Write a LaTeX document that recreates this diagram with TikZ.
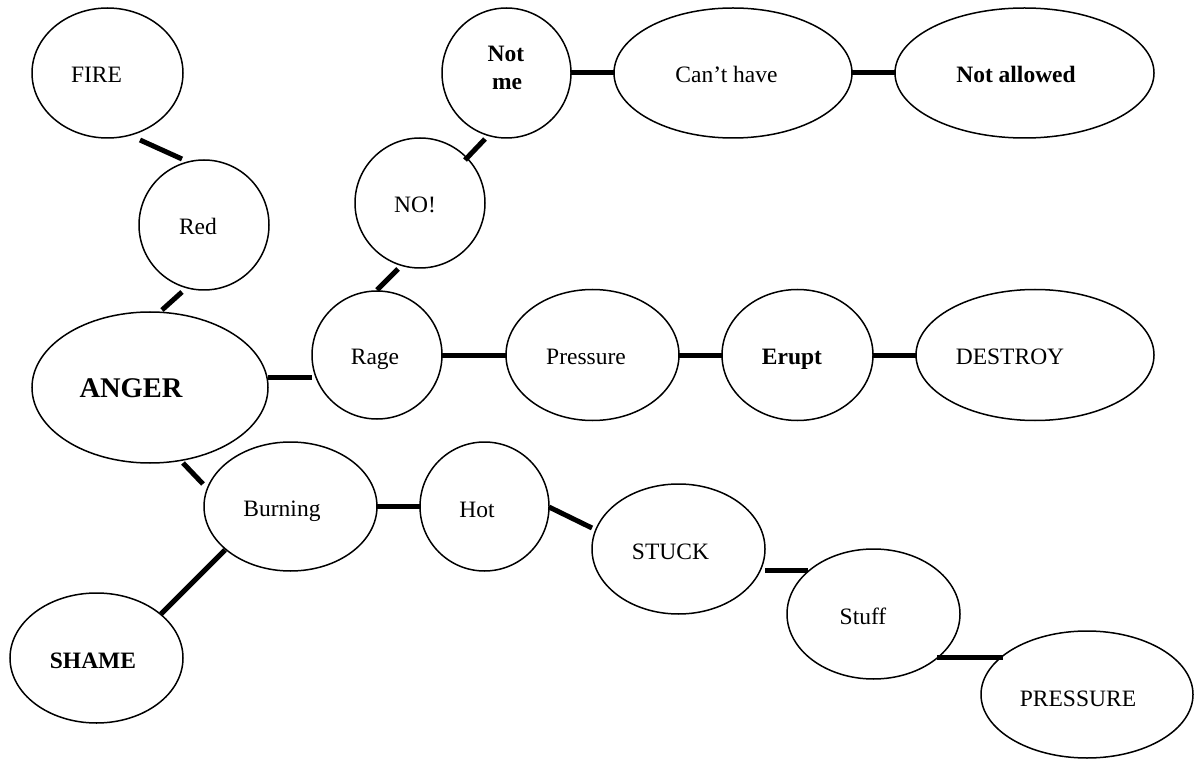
\documentclass[tikz,border=0pt]{standalone}
\usepackage{fontspec}
\setmainfont{Liberation Serif}
\usetikzlibrary{shapes.geometric}
\tikzset{
  bub/.style={draw=black, ellipse, line width=1.5pt, inner sep=0pt, outer sep=0pt},
  lbl/.style={anchor=base, inner sep=0pt, font=\fontsize{23.5}{28}\selectfont},
  blbl/.style={anchor=base, inner sep=0pt, font=\fontsize{23.5}{28}\selectfont\bfseries},
  conn/.style={line width=5pt, line cap=butt},
}
\begin{document}
\begin{tikzpicture}[x=1pt,y=-1pt]
\useasboundingbox[fill=white] (0,0) rectangle (1194,759);
% bubbles
\node[bub, minimum width=151pt, minimum height=130pt] (fire) at (107.5,73) {};
\node[bub, minimum width=130pt, minimum height=130pt] (red) at (204,225) {};
\node[bub, minimum width=236pt, minimum height=151pt] (anger) at (150,387.5) {};
\node[bub, minimum width=130pt, minimum height=128pt] (rage) at (377,355) {};
\node[bub, minimum width=130pt, minimum height=130pt] (no) at (420,203) {};
\node[bub, minimum width=129pt, minimum height=130pt] (notme) at (506.5,73) {};
\node[bub, minimum width=238pt, minimum height=130pt] (canthave) at (733,73) {};
\node[bub, minimum width=259pt, minimum height=130pt] (notallowed) at (1024.5,73) {};
\node[bub, minimum width=173pt, minimum height=131pt] (pressure) at (592.5,355) {};
\node[bub, minimum width=151pt, minimum height=131pt] (erupt) at (797.5,355) {};
\node[bub, minimum width=238pt, minimum height=131pt] (destroy) at (1035,355) {};
\node[bub, minimum width=173pt, minimum height=129pt] (burning) at (290.5,506.5) {};
\node[bub, minimum width=129pt, minimum height=129pt] (hot) at (484.5,506.5) {};
\node[bub, minimum width=173pt, minimum height=130pt] (stuck) at (678.5,549) {};
\node[bub, minimum width=173pt, minimum height=130pt] (stuff) at (873.5,614) {};
\node[bub, minimum width=173pt, minimum height=130pt] (shame) at (96.5,658) {};
\node[bub, minimum width=212pt, minimum height=127pt] (pressure2) at (1087,694.5) {};
% labels
\node[lbl] (fire-t) at (96.5,83) {FIRE};
\node[lbl] (red-t) at (198,235) {Red};
\node[anchor=base, inner sep=0pt, font=\fontsize{28.5}{32}\selectfont\bfseries] (anger-t) at (131,397) {ANGER};
\node[lbl] (rage-t) at (375,364) {Rage};
\node[lbl] (no-t) at (415,213) {NO!};
\node[blbl] (notme-t1) at (506,62) {Not};
\node[blbl] (notme-t2) at (507,90) {me};
\node[lbl] (canthave-t) at (726.5,83) {Can’t have};
\node[blbl] (notallowed-t) at (1016,83) {Not allowed};
\node[lbl] (pressure-t) at (586,364) {Pressure};
\node[blbl] (erupt-t) at (792,364) {Erupt};
\node[lbl] (destroy-t) at (1010,364) {DESTROY};
\node[lbl] (burning-t) at (282,516) {Burning};
\node[lbl] (hot-t) at (477,517) {Hot};
\node[lbl] (stuck-t) at (670.5,559) {STUCK};
\node[lbl] (stuff-t) at (863,624) {Stuff};
\node[blbl] (shame-t) at (93,668) {SHAME};
\node[lbl] (pressure2-t) at (1078,706) {PRESSURE};
% connectors
\draw[conn] ([shift={(32.5,67)}]fire.center) -- ([shift={(-22,-66)}]red.center);
\draw[conn] ([shift={(-22,67)}]red.center) -- ([shift={(12,-77.5)}]anger.center);
\draw[conn] ([shift={(118,-10.5)}]anger.center) -- ([shift={(-65,22)}]rage.center);
\draw[conn] ([shift={(0,-65)}]rage.center) -- ([shift={(-22,66)}]no.center);
\draw[conn] ([shift={(45,-43)}]no.center) -- ([shift={(-21.5,66)}]notme.center);
\draw[conn] ([shift={(64.5,0)}]notme.center) -- ([shift={(-119,0)}]canthave.center);
\draw[conn] ([shift={(119,0)}]canthave.center) -- ([shift={(-129.5,0)}]notallowed.center);
\draw[conn] ([shift={(65,0)}]rage.center) -- ([shift={(-86.5,0)}]pressure.center);
\draw[conn] ([shift={(86.5,0)}]pressure.center) -- ([shift={(-75.5,0)}]erupt.center);
\draw[conn] ([shift={(75.5,0)}]erupt.center) -- ([shift={(-119,0)}]destroy.center);
\draw[conn] ([shift={(33,75.5)}]anger.center) -- ([shift={(-87.5,-22.5)}]burning.center);
\draw[conn] ([shift={(-65.5,43.5)}]burning.center) -- ([shift={(64.5,-44)}]shame.center);
\draw[conn] ([shift={(86.5,-0.5)}]burning.center) -- ([shift={(-64.5,-0.5)}]hot.center);
\draw[conn] ([shift={(64.5,0.5)}]hot.center) -- ([shift={(-86.5,-21)}]stuck.center);
\draw[conn] ([shift={(86.5,21)}]stuck.center) -- ([shift={(-65.5,-44)}]stuff.center);
\draw[conn] ([shift={(63.5,43)}]stuff.center) -- ([shift={(-84,-37.5)}]pressure2.center);
\end{tikzpicture}
\end{document}
